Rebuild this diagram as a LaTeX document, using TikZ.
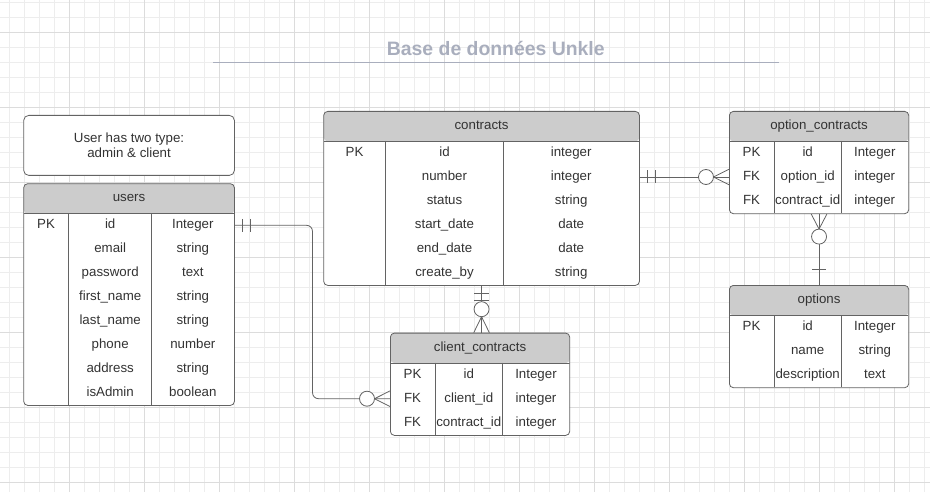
\documentclass[tikz,border=0pt]{standalone}
\usepackage{fontspec}
\setmainfont{Liberation Sans}
\usepackage{tikz}
\definecolor{linegray}{HTML}{636363}
\definecolor{headgray}{HTML}{CCCCCC}
\definecolor{textgray}{HTML}{333333}
\definecolor{titleblue}{HTML}{A9AEBD}
\definecolor{gridminor}{HTML}{EDEDED}
\definecolor{gridmajor}{HTML}{DCDCDC}
\tikzstyle{minorline} = [draw=gridminor, line width=0.9pt]
\tikzstyle{majorline} = [draw=gridmajor, line width=0.9pt]
\tikzstyle{title} = [anchor=base, inner sep=0pt, text=titleblue, font=\fontsize{19.4}{22}\selectfont\bfseries]
\tikzstyle{cell} = [anchor=base, inner sep=0pt, text=textgray, font=\fontsize{13.3}{15}\selectfont]
\tikzstyle{note} = [draw=linegray, line width=0.8pt, fill=white, rounded corners=5pt, anchor=north west, align=center, inner sep=0pt, text=textgray, font=\fontsize{13.3}{15}\selectfont]
\tikzstyle{link} = [draw=linegray, line width=0.8pt]
\tikzstyle{ring} = [draw=linegray, line width=0.8pt, fill=white]
\tikzset{tablebox/.style={draw=linegray, line width=0.8pt, fill=white, rounded corners=4pt, inner sep=0pt, anchor=north west,
	path picture={\fill[headgray] (path picture bounding box.north west) rectangle ([yshift=-30pt]path picture bounding box.north east);
		\draw[link] ([yshift=-30pt]path picture bounding box.north west) -- ([yshift=-30pt]path picture bounding box.north east);}}}

\begin{document}
\begin{tikzpicture}[x=1pt, y=-1pt]
		\useasboundingbox (0,0) rectangle (930,492);
		\foreach \i in {0,...,61} \draw[minorline] ({9.3+15*\i},0) -- ({9.3+15*\i},492);
		\foreach \i in {0,...,32} \draw[minorline] (0,{2+15*\i}) -- (930,{2+15*\i});
		\foreach \i in {0,...,11} \draw[majorline] ({69.3+75*\i},0) -- ({69.3+75*\i},492);
		\foreach \i in {0,...,6} \draw[majorline] (0,{32+75*\i}) -- (930,{32+75*\i});

		\node [title] (title) at (495.8,56) {Base de données Unkle};
		\draw [draw=titleblue, line width=1.3pt] (213,62.3) -- (779,62.3);

		\node [note, minimum width=210.7pt, minimum height=60pt] (note) at (23.3,115) {User has two type:\\admin \& client};

		\node [tablebox, minimum width=210.7pt, minimum height=221.7pt] (users) at (23.3,183.3) {};
		\node [cell] (users-head) at ([yshift=-18.3pt]users.north) {users};
		\draw [link] (68.7,213.3) -- (68.7,405) (151.7,213.3) -- (151.7,405);
		\foreach \k/\n/\t [count=\i from 0] in {PK/id/Integer, /email/string, /password/text, /first\_name/string, /last\_name/string, /phone/number, /address/string, /isAdmin/boolean} {
			\node [cell] (users-k\i) at (46,{228.8+24*\i}) {\k};
			\node [cell] (users-n\i) at (110.2,{228.8+24*\i}) {\n};
			\node [cell] (users-t\i) at (192.8,{228.8+24*\i}) {\t};
		}

		\node [tablebox, minimum width=315.7pt, minimum height=174pt] (contracts) at (323.3,111) {};
		\node [cell] (contracts-head) at ([yshift=-18.3pt]contracts.north) {contracts};
		\draw [link] (385.7,141) -- (385.7,285) (503.3,141) -- (503.3,285);
		\foreach \k/\n/\t [count=\i from 0] in {PK/id/integer, /number/integer, /status/string, /start\_date/date, /end\_date/date, /create\_by/string} {
			\node [cell] (contracts-k\i) at (354.5,{156.5+24*\i}) {\k};
			\node [cell] (contracts-n\i) at (444.5,{156.5+24*\i}) {\n};
			\node [cell] (contracts-t\i) at (571.2,{156.5+24*\i}) {\t};
		}

		\node [tablebox, minimum width=179.3pt, minimum height=102.3pt] (client) at (390,332.7) {};
		\node [cell] (client-head) at ([yshift=-18.3pt]client.north) {client\_contracts};
		\draw [link] (435,362.7) -- (435,435) (502.7,362.7) -- (502.7,435);
		\foreach \k/\n/\t [count=\i from 0] in {PK/id/Integer, FK/client\_id/integer, FK/contract\_id/integer} {
			\node [cell] (client-k\i) at (412.5,{378.2+24*\i}) {\k};
			\node [cell] (client-n\i) at (468.8,{378.2+24*\i}) {\n};
			\node [cell] (client-t\i) at (536,{378.2+24*\i}) {\t};
		}

		\node [tablebox, minimum width=179.3pt, minimum height=102.3pt] (option) at (729,111) {};
		\node [cell] (option-head) at ([yshift=-18.3pt]option.north) {option\_contracts};
		\draw [link] (774,141) -- (774,213.3) (841.3,141) -- (841.3,213.3);
		\foreach \k/\n/\t [count=\i from 0] in {PK/id/Integer, FK/option\_id/integer, FK/contract\_id/integer} {
			\node [cell] (option-k\i) at (751.5,{156.5+24*\i}) {\k};
			\node [cell] (option-n\i) at (807.7,{156.5+24*\i}) {\n};
			\node [cell] (option-t\i) at (874.8,{156.5+24*\i}) {\t};
		}

		\node [tablebox, minimum width=179.3pt, minimum height=102.3pt] (options) at (729,285) {};
		\node [cell] (options-head) at ([yshift=-18.3pt]options.north) {options};
		\draw [link] (774,315) -- (774,387.3) (841.3,315) -- (841.3,387.3);
		\foreach \k/\n/\t [count=\i from 0] in {PK/id/Integer, /name/string, /description/text} {
			\node [cell] (options-k\i) at (751.5,{330.5+24*\i}) {\k};
			\node [cell] (options-n\i) at (807.7,{330.5+24*\i}) {\n};
			\node [cell] (options-t\i) at (874.8,{330.5+24*\i}) {\t};
		}

		\coordinate (u1) at ([yshift=-42pt]users.north east);
		\coordinate (c1) at ([yshift=-66pt]client.north west);
		\draw [link, rounded corners=6pt] (u1) -- ++(77.7,0) |- (c1);
		\draw [link] ([xshift=7.7pt,yshift=6.5pt]u1) -- ([xshift=7.7pt,yshift=-6.5pt]u1) ([xshift=15.3pt,yshift=6.5pt]u1) -- ([xshift=15.3pt,yshift=-6.5pt]u1);
		\draw [link] ([xshift=-15.5pt]c1) -- ([yshift=7.8pt]c1) ([xshift=-15.5pt]c1) -- ([yshift=-7.8pt]c1);
		\draw [ring] ([xshift=-23pt]c1) circle (7.5pt);

		\coordinate (k2) at (contracts.south);
		\coordinate (c2) at (contracts.south |- client.north);
		\draw [link] (k2) -- (c2);
		\draw [link] ([xshift=-7.5pt,yshift=-7.7pt]k2) -- ([xshift=7.5pt,yshift=-7.7pt]k2) ([xshift=-7.5pt,yshift=-15pt]k2) -- ([xshift=7.5pt,yshift=-15pt]k2);
		\draw [link] ([yshift=16pt]c2) -- ([xshift=-7.8pt]c2) ([yshift=16pt]c2) -- ([xshift=7.8pt]c2);
		\draw [ring] ([yshift=23.5pt]c2) circle (7.5pt);

		\coordinate (k3) at ([yshift=-66pt]contracts.north east);
		\coordinate (o3) at ([yshift=-66pt]option.north west);
		\draw [link] (k3) -- (o3);
		\draw [link] ([xshift=7.7pt,yshift=6.5pt]k3) -- ([xshift=7.7pt,yshift=-6.5pt]k3) ([xshift=15.3pt,yshift=6.5pt]k3) -- ([xshift=15.3pt,yshift=-6.5pt]k3);
		\draw [link] ([xshift=-15.5pt]o3) -- ([yshift=7.8pt]o3) ([xshift=-15.5pt]o3) -- ([yshift=-7.8pt]o3);
		\draw [ring] ([xshift=-23pt]o3) circle (7.5pt);

		\coordinate (o4) at (option.south);
		\coordinate (p4) at (options.north);
		\draw [link] (o4) -- (p4);
		\draw [link] ([yshift=-15pt]o4) -- ([xshift=-7.8pt]o4) ([yshift=-15pt]o4) -- ([xshift=7.8pt]o4);
		\draw [ring] ([yshift=-22.5pt]o4) circle (7.5pt);
		\draw [link] ([xshift=-7pt,yshift=15.7pt]p4) -- ([xshift=7pt,yshift=15.7pt]p4);
	\end{tikzpicture}
\end{document}
